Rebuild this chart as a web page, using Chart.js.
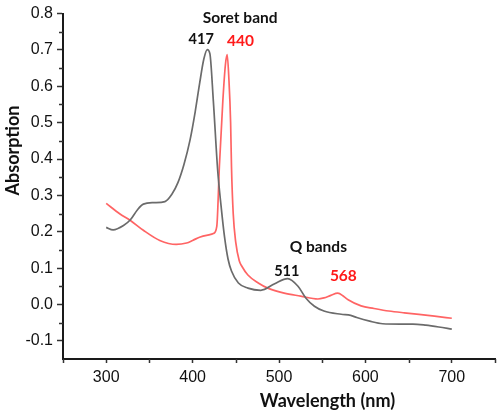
<!DOCTYPE html>
<html>
<head>
<meta charset="utf-8">
<script src="https://cdn.jsdelivr.net/npm/chart.js@4.4.1/dist/chart.umd.min.js"></script>
<style>
  html, body { margin: 0; padding: 0; background: #fff; }
  #wrap { width: 498px; height: 413px; position: relative; }
</style>
</head>
<body>
<div id="wrap"><canvas id="uvvis"></canvas></div>
<script>
// grey spectrum (Soret 417, Q 511)
const grayWl = [300, 308, 320, 328, 336, 343, 355, 368, 376, 383, 390, 397, 403, 408, 413, 417, 420, 424, 429, 433, 437, 441, 445, 453, 464, 479, 495, 510, 522, 531, 541, 552, 572, 583, 590, 605, 620, 640, 655, 670, 685, 700];
const grayAbs = [0.212, 0.205, 0.217, 0.233, 0.26, 0.276, 0.280, 0.283, 0.303, 0.335, 0.385, 0.452, 0.530, 0.606, 0.675, 0.701, 0.690, 0.56, 0.37, 0.27, 0.185, 0.125, 0.092, 0.059, 0.045, 0.039, 0.057, 0.071, 0.050, 0.018, -0.005, -0.018, -0.027, -0.030, -0.036, -0.046, -0.053, -0.054, -0.054, -0.057, -0.062, -0.068];

// red spectrum (Soret 440, Q 568)
const redWl = [300, 316, 328, 343, 362, 381, 393, 400, 408, 420, 424, 428, 431, 435, 438, 440, 442, 444, 445, 447, 450, 454, 457, 464, 476, 487, 506, 525, 545, 552, 560, 568, 575, 580, 595, 610, 627, 645, 662, 680, 700];
const redAbs = [0.278, 0.249, 0.231, 0.204, 0.176, 0.165, 0.169, 0.176, 0.185, 0.192, 0.195, 0.215, 0.38, 0.56, 0.66, 0.687, 0.62, 0.50, 0.38, 0.25, 0.17, 0.12, 0.105, 0.081, 0.059, 0.045, 0.031, 0.023, 0.015, 0.018, 0.025, 0.031, 0.022, 0.013, -0.004, -0.011, -0.018, -0.023, -0.027, -0.032, -0.038];

const xTicks = [300, 400, 500, 600, 700];
const yTicks = [-0.1, 0.0, 0.1, 0.2, 0.3, 0.4, 0.5, 0.6, 0.7, 0.8];
const xMinorTicks = [250, 350, 450, 550, 650, 750];
const yMinorTicks = [-0.05, 0.05, 0.15, 0.25, 0.35, 0.45, 0.55, 0.65, 0.75];

function toPoints(xs, ys) {
    return xs.map(function(x, i) { return { x: x, y: ys[i] }; });
}

const axisColor = '#1a1a1a';

// minor ticks, peak labels and the two axis titles
const extrasPlugin = {
    id: 'extras',
    afterDraw(chart) {
        const ctx = chart.ctx;
        const xs = chart.scales.x;
        const ys = chart.scales.y;
        const area = chart.chartArea;
        ctx.save();
        ctx.strokeStyle = '#333';
        ctx.lineWidth = 1.5;
        ctx.beginPath();
        yMinorTicks.forEach(function(v) {
            const py = Math.round(ys.getPixelForValue(v)) + 0.5;
            ctx.moveTo(area.left - 4, py);
            ctx.lineTo(area.left, py);
        });
        xMinorTicks.forEach(function(v) {
            const px = Math.round(xs.getPixelForValue(v)) + 0.5;
            ctx.moveTo(px, area.bottom);
            ctx.lineTo(px, area.bottom + 4);
        });
        ctx.stroke();

        const notes = [
            { text: 'Soret band', x: 455, y: 0.787, color: '#111', size: 15.5 },
            { text: '417', x: 410, y: 0.729, color: '#111', size: 14.5 },
            { text: '440', x: 455.5, y: 0.725, color: '#ff1a1a', size: 15.5 },
            { text: 'Q bands', x: 545.5, y: 0.157, color: '#111', size: 15.5 },
            { text: '511', x: 509, y: 0.092, color: '#111', size: 14.5 },
            { text: '568', x: 574.5, y: 0.077, color: '#ff1a1a', size: 15.5 }
        ];
        ctx.textAlign = 'center';
        ctx.textBaseline = 'middle';
        notes.forEach(function(n) {
            ctx.fillStyle = n.color;
            ctx.font = 'bold ' + n.size + 'px Lato';
            ctx.fillText(n.text, xs.getPixelForValue(n.x), ys.getPixelForValue(n.y));
        });

        ctx.fillStyle = '#111';
        ctx.font = 'bold 18px Lato';
        ctx.fillText('Wavelength (nm)', 327.5, 401.5);
        ctx.translate(13, 150.5);
        ctx.rotate(-Math.PI / 2);
        ctx.fillText('Absorption', 0, 0);
        ctx.restore();
    }
};

new Chart(document.getElementById('uvvis'), {
    type: 'line',
    data: {
        datasets: [
            {
                label: 'grey',
                data: toPoints(grayWl, grayAbs),
                borderColor: '#6b6b6b',
                borderWidth: 1.7,
                pointRadius: 0,
                cubicInterpolationMode: 'monotone'
            },
            {
                label: 'red',
                data: toPoints(redWl, redAbs),
                borderColor: '#ff6464',
                borderWidth: 1.7,
                pointRadius: 0,
                cubicInterpolationMode: 'monotone'
            }
        ]
    },
    options: {
        responsive: true,
        maintainAspectRatio: false,
        animation: false,
        layout: { padding: { top: 8, right: 3, left: 0, bottom: 0 } },
        plugins: {
            legend: { display: false },
            tooltip: { enabled: false }
        },
        scales: {
            x: {
                type: 'linear',
                min: 250,
                max: 750,
                afterBuildTicks: function(scale) {
                    scale.ticks = xTicks.map(function(v) { return { value: v }; });
                },
                afterFit: function(scale) { scale.height = 54; },
                border: { display: true, color: axisColor, width: 2 },
                grid: { drawOnChartArea: false, drawTicks: true, tickLength: 4, tickColor: '#333', tickWidth: 1.5 },
                ticks: {
                    color: '#111',
                    padding: 5,
                    maxRotation: 0,
                    font: { family: 'Liberation Sans', size: 16 }
                }
            },
            y: {
                min: -0.15,
                max: 0.8,
                afterBuildTicks: function(scale) {
                    scale.ticks = yTicks.map(function(v) { return { value: v }; });
                },
                afterFit: function(scale) { scale.width = 63; },
                border: { display: true, color: axisColor, width: 2 },
                grid: { drawOnChartArea: false, drawTicks: true, tickLength: 6, tickColor: '#333', tickWidth: 1.5 },
                ticks: {
                    color: '#111',
                    padding: 4,
                    font: { family: 'Liberation Sans', size: 16 },
                    callback: function(v) { return v.toFixed(1); }
                }
            }
        }
    },
    plugins: [extrasPlugin]
});
</script>
</body>
</html>
